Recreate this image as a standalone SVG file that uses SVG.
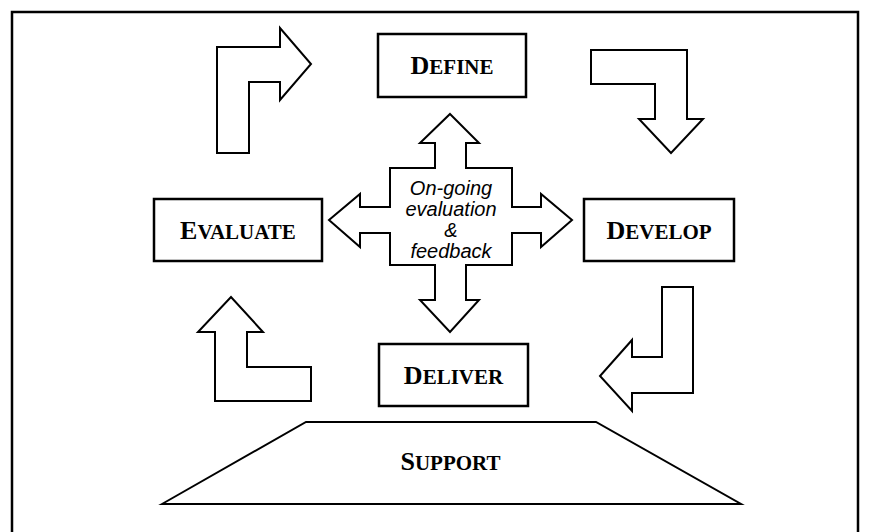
<svg xmlns="http://www.w3.org/2000/svg" width="870" height="532" viewBox="0 0 870 532">
<style>
.shape{fill:#fff;stroke:#000;stroke-width:2;stroke-linejoin:miter}
.box{fill:#fff;stroke:#000;stroke-width:2.5}
.lbl{font-family:"Liberation Serif","Times New Roman",serif;font-weight:bold;font-size:26px;fill:#000}
.sc{font-size:21px}
.mid{font-family:"Liberation Sans",Arial,sans-serif;font-style:italic;font-size:20px;fill:#000}
</style>
<rect x="0" y="0" width="870" height="532" fill="#fff"/>
<path d="M12,540 V12 H858 V540" fill="none" stroke="#000" stroke-width="2.5"/>
<g id="connectors">
<polygon class="shape" points="217,153 217,47 280,47 280,28 311,64 280,100 280,82 249,82 249,153"/>
<polygon class="shape" points="591,50 687,50 687,119 703,119 671,153 639,119 655,119 655,84 591,84"/>
<polygon class="shape" points="662,287 693,287 693,393 632,393 632,411 600,376 632,340 632,357 662,357"/>
<polygon class="shape" points="215,401 311,401 311,367 247,367 247,332 263,332 231,297 198,332 215,332"/>
</g>
<g id="center">
<polygon class="shape" points="450,114 479,143 466,143 466,168 512,168 512,207 541,207 541,194 572,220 541,247 541,233 512,233 512,265 466,265 466,300 479,300 450,332 420,300 435,300 435,265 390,265 390,233 360,233 360,247 329,220 360,194 360,207 390,207 390,168 435,168 435,143 420,143"/>
<text class="mid" text-anchor="middle"><tspan x="451" y="195">On-going</tspan><tspan x="451" y="216">evaluation</tspan><tspan x="451" y="237">&amp;</tspan><tspan x="451" y="258">feedback</tspan></text>
</g>
<g id="define">
<rect class="box" x="378" y="34" width="148" height="63"/>
<text class="lbl" x="452" y="74" text-anchor="middle">D<tspan class="sc">EFINE</tspan></text>
</g>
<g id="evaluate">
<rect class="box" x="154" y="199" width="168" height="62"/>
<text class="lbl" x="238" y="239" text-anchor="middle">E<tspan class="sc">VALUATE</tspan></text>
</g>
<g id="develop">
<rect class="box" x="584" y="199" width="150" height="62"/>
<text class="lbl" x="659" y="239" text-anchor="middle">D<tspan class="sc">EVELOP</tspan></text>
</g>
<g id="deliver">
<rect class="box" x="379" y="344" width="149" height="62"/>
<text class="lbl" x="453.5" y="384" text-anchor="middle">D<tspan class="sc">ELIVER</tspan></text>
</g>
<g id="support">
<polygon class="shape" points="162,504 306,422 596,422 741,504"/>
<text class="lbl" x="450.5" y="470" text-anchor="middle">S<tspan class="sc">UPPORT</tspan></text>
</g>
</svg>
